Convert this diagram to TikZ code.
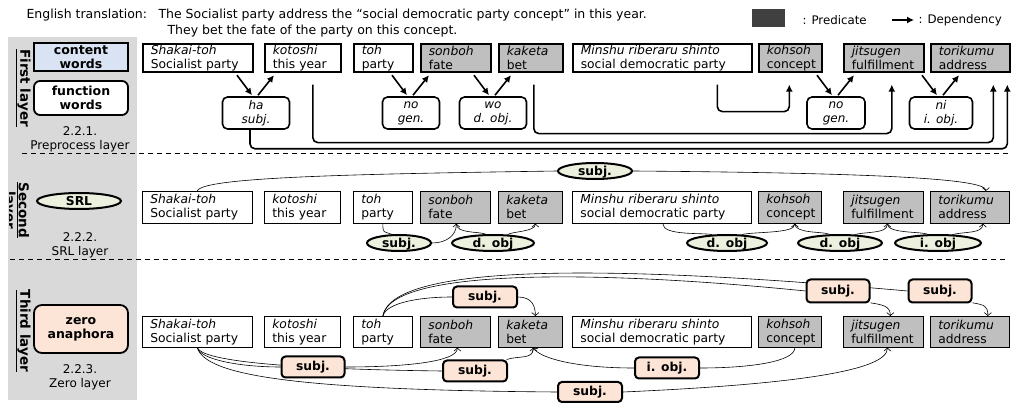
\documentclass[tikz,border=0pt]{standalone}
\usepackage{fontspec}
\setmainfont{DejaVu Sans}
\usetikzlibrary{arrows.meta,shapes.geometric,backgrounds}

\definecolor{panelgray}{RGB}{217,217,217}
\definecolor{predgray}{RGB}{191,191,191}
\definecolor{darkpred}{RGB}{64,64,64}
\definecolor{contentblue}{RGB}{218,227,243}
\definecolor{srlgreen}{RGB}{235,241,222}
\definecolor{zeropeach}{RGB}{252,228,214}

\newcommand{\wordtext}[2]{\hspace*{8pt}\textit{#1}\\\hspace*{8pt}#2}

\tikzset{
  word/.style={draw, anchor=north west, align=left, inner sep=0pt,
    font=\fontsize{12.3}{14}\selectfont},
  fword/.style={draw, rounded corners=5pt, line width=1.6pt, align=center,
    inner sep=0pt, minimum height=32, font=\fontsize{12}{14}\selectfont\itshape},
  srl/.style={draw, ellipse, fill=srlgreen, line width=2pt, inner sep=0pt,
    minimum height=16, text height=9pt, text depth=0pt,
    font=\fontsize{12.3}{13}\selectfont\bfseries},
  zero/.style={draw, rounded corners=4pt, fill=zeropeach, line width=2pt,
    inner sep=0pt, minimum height=21, font=\fontsize{12.3}{13}\selectfont\bfseries},
  dep/.style={line width=1.6pt, -{Latex[length=7pt,width=7pt]}},
  rel/.style={line width=0.6pt},
  relarrow/.style={rel, -{Straight Barb[length=3pt,width=7pt]}},
  layerline/.style={line width=0.8pt, dash pattern=on 5pt off 4pt},
  small/.style={font=\fontsize{12}{14}\selectfont},
  toptext/.style={anchor=west, font=\fontsize{12.5}{14}\selectfont},
  layername/.style={rotate=-90, font=\fontsize{13.5}{15}\selectfont\bfseries}
}

\begin{document}
\begin{tikzpicture}[x=1pt, y=-1pt]
\useasboundingbox (0,0) rectangle (1026,403);

\fill[panelgray] (8,37) rectangle (137,400);

\node[toptext] (eng) at (23,15) {English translation:};
\node[toptext] (trans1) at (155,15)
  {The Socialist party address the “social democratic party concept” in this year.};
\node[toptext] (trans2) at (164,31)
  {They bet the fate of the party on this concept.};

\node[fill=darkpred, minimum width=33, minimum height=18, inner sep=0pt] (legpred) at (768,18) {};
\node[toptext, font=\fontsize{11.8}{13}\selectfont] (legpredtext) at (799,20) {: Predicate};
\node[toptext, font=\fontsize{11.8}{13}\selectfont] (legdeptext) at (915,20) {: Dependency};
\draw[dep, line width=1.2pt] ([xshift=-23pt]legdeptext.west) -- ([xshift=-1pt]legdeptext.west);

\node[draw, fill=contentblue, line width=1.8pt, minimum width=94, minimum height=28, inner sep=0pt,
  align=center, font=\fontsize{12.5}{14}\selectfont\bfseries] (content) at (81,57) {content\\words};
\node[draw, fill=white, rounded corners=6pt, line width=1.8pt, minimum width=94, minimum height=34,
  inner sep=0pt, align=center, font=\fontsize{12.5}{14}\selectfont\bfseries] (function) at (81,98) {function\\words};
\node[small, align=center] (sec1) at (80,139) {2.2.1.\\Preprocess layer};

\node[draw, ellipse, fill=srlgreen, line width=2pt, minimum width=84, minimum height=16, inner sep=0pt,
  text height=9pt, text depth=0pt, font=\fontsize{12.3}{14}\selectfont\bfseries] (srlkey) at (79,201) {SRL};
\node[small, align=center] (sec2) at (80,245) {2.2.2.\\SRL layer};

\node[draw, fill=zeropeach, rounded corners=8pt, line width=1.8pt, minimum width=94, minimum height=48,
  inner sep=0pt, align=center, font=\fontsize{12.5}{14}\selectfont\bfseries] (zerokey) at (81,329) {zero\\anaphora};
\node[small, align=center] (sec3) at (80,377) {2.2.3.\\Zero layer};

\node[layername] (lay1) at (23,88) {\underline{First layer}};
\node[layername] (lay2) at (23,210) {\underline{Second}};
\begin{scope}
\clip (9,150) rectangle (40,260);
\node[layername] (lay2b) at (8,210) {\underline{layer}};
\end{scope}
\node[layername] (lay3) at (23,331) {\underline{Third layer}};

\draw[layerline] (22,153) -- (1008,153);
\draw[layerline] (10,259) -- (1008,259);

\foreach \nm/\xx/\ww/\fc/\jp/\en in {sh/142/110/white/Shakai-toh/Socialist party,
    ko/264/76/white/kotoshi/this year, to/353/59/white/toh/party,
    so/420/70/predgray/sonboh/fate, ka/498/64/predgray/kaketa/bet,
    mi/572/179/white/Minshu riberaru shinto/social democratic party,
    kh/758/63/predgray/kohsoh/concept, ji/843/80/predgray/jitsugen/fulfillment,
    tr/930/79/predgray/torikumu/address}
{
  \node[word, fill=\fc, line width=1.6pt, text width=\ww pt, minimum height=28] (\nm1) at (\xx,43) {\wordtext{\jp}{\en}};
  \node[word, fill=\fc, line width=0.7pt, text width=\ww pt, minimum height=32] (\nm2) at (\xx,191) {\wordtext{\jp}{\en}};
  \node[word, fill=\fc, line width=0.7pt, text width=\ww pt, minimum height=31] (\nm3) at (\xx,316) {\wordtext{\jp}{\en}};
}

\node[fword, minimum width=67] (ha) at (256,113) {ha\\subj.};
\node[fword, minimum width=57] (noa) at (411,113) {no\\gen.};
\node[fword, minimum width=67] (wo) at (493,113) {wo\\d. obj.};
\node[fword, minimum width=58] (nob) at (836,113) {no\\gen.};
\node[fword, minimum width=63] (ni) at (941,113) {ni\\i. obj.};

\foreach \fw in {ha, noa, wo, nob, ni} {
  \draw[dep] ([shift={(-19,-21)}]\fw.north) -- ([shift={(-4,-1)}]\fw.north);
  \draw[dep] ([shift={(2,-1)}]\fw.north) -- ([shift={(18,-21)}]\fw.north);
}

\draw[dep, rounded corners=5pt] ([shift={(-6,0)}]ha.south) -- ++(0,19) -| ([shift={(37,12)}]tr1.south);
\draw[dep, rounded corners=5pt] ([shift={(10,12)}]ko1.south) -- ++(0,58) -| ([shift={(23,12)}]tr1.south);
\draw[dep, rounded corners=5pt] ([shift={(3,12)}]ka1.south) -- ++(0,49) -| ([shift={(8,12)}]ji1.south);
\draw[dep, rounded corners=5pt] ([shift={(55,12)}]mi1.south) -- ++(0,27) -| ([shift={(-1,12)}]kh1.south);

\node[srl, minimum width=74] (subja) at (595,171) {subj.};
\node[srl, minimum width=64] (subjb) at (399,243) {subj.};
\node[srl, minimum width=82] (dobja) at (493,243) {d. obj};
\node[srl, minimum width=80] (dobjb) at (727,243) {d. obj};
\node[srl, minimum width=84] (dobjc) at (840,243) {d. obj};
\node[srl, minimum width=86] (iobja) at (938,243) {i. obj};

\node[zero, minimum width=64] (zsubju) at (485,297) {subj.};
\node[zero, minimum width=63, minimum height=23] (zsubjj) at (838,291) {subj.};
\node[zero, minimum width=63, minimum height=23] (zsubjt) at (940,291) {subj.};
\node[zero, minimum width=63] (zsubja) at (313,367) {subj.};
\node[zero, minimum width=64] (zsubjb) at (475,371) {subj.};
\node[zero, minimum width=64] (ziobj) at (667,368) {i. obj.};
\node[zero, minimum width=64, minimum height=20] (zsubjc) at (590,392) {subj.};

\begin{scope}[on background layer]
\draw[rel] (sh2.north) .. controls +(4,-14) and +(-200,3) .. (subja.west);
\draw[relarrow] (subja.east) .. controls +(250,2) and +(0,-12) .. ([xshift=16pt]tr2.north);
\draw[rel] (to2.south) .. controls +(0,10) and +(-8,-3) .. (subjb.130);
\draw[relarrow] (subjb.east) .. controls +(14,0) and +(0,12) .. ([xshift=1pt]so2.south);
\draw[rel] ([xshift=1pt]so2.south) .. controls +(0,10) and +(-8,-3) .. (dobja.130);
\draw[relarrow] (dobja.30) .. controls +(4,-3) and +(0,8) .. ([xshift=5pt]ka2.south);
\draw[rel] ([xshift=1pt]mi2.south) .. controls +(0,12) and +(-12,-2) .. (dobjb.150);
\draw[relarrow] (dobjb.30) .. controls +(12,-3) and +(0,10) .. ([xshift=5pt]kh2.south);
\draw[rel] ([xshift=5pt]kh2.south) .. controls +(0,10) and +(-8,-3) .. (dobjc.140);
\draw[relarrow] (dobjc.30) .. controls +(12,-3) and +(0,10) .. ([xshift=4pt]ji2.south);
\draw[rel] ([xshift=4pt]ji2.south) .. controls +(0,10) and +(-8,-3) .. (iobja.140);
\draw[relarrow] (iobja.30) .. controls +(12,-3) and +(0,10) .. ([xshift=13pt]tr2.south);

\draw[rel] (to3.north) .. controls +(4,-14) and +(-30,0) .. (zsubju.west);
\draw[relarrow] (zsubju.east) .. controls +(14,0) and +(0,-10) .. ([xshift=5pt]ka3.north);
\draw[rel] (to3.north) .. controls +(8,-48) and +(-207,-21) .. (zsubjj.west);
\draw[rel] (to3.north) .. controls +(10,-55) and +(-280,-25) .. (zsubjt.west);
\draw[relarrow] (zsubjj.340) .. controls +(12,2) and +(0,-10) .. ([xshift=7pt]ji3.north);
\draw[relarrow] (zsubjt.340) .. controls +(12,2) and +(0,-10) .. ([xshift=18pt]tr3.north);

\draw[rel] (sh3.south) .. controls +(3,12) and +(-40,0) .. (zsubja.west);
\draw[rel] (sh3.south) .. controls +(5,13) and +(-160,-2) .. (zsubjb.west);
\draw[rel] (sh3.south) .. controls +(8,28) and +(-260,-2) .. (zsubjc.west);
\draw[relarrow] (zsubja.east) .. controls +(60,0) and +(0,14) .. ([xshift=2pt]so3.south);
\draw[relarrow] (zsubjb.20) .. controls +(12,-4) and +(0,12) .. ([xshift=3pt]ka3.south);
\draw[rel] ([xshift=5pt]kh3.south) .. controls +(0,14) and +(50,0) .. (ziobj.east);
\draw[relarrow] (ziobj.west) .. controls +(-60,0) and +(6,10) .. ([xshift=3pt]ka3.south);
\draw[relarrow] (zsubjc.east) .. controls +(180,-8) and +(0,22) .. ([xshift=4pt]ji3.south);
\end{scope}
\end{tikzpicture}
\end{document}
